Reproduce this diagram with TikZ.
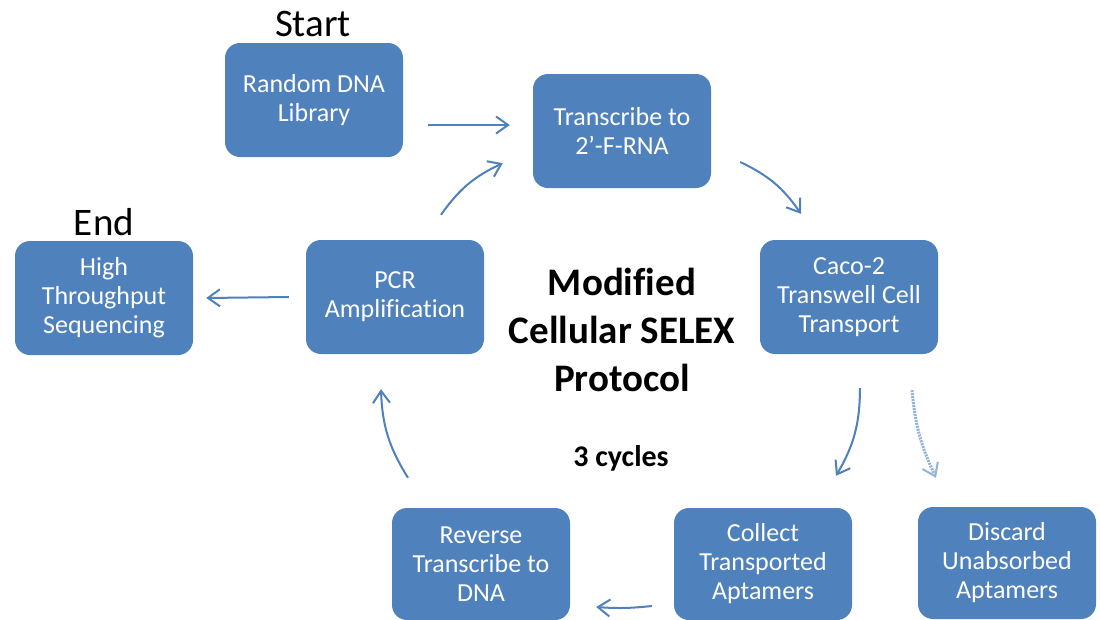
\documentclass[tikz,border=0pt]{standalone}
\usepackage{fontspec}
\setmainfont{Carlito}[Ligatures=NoCommon]
\usetikzlibrary{arrows.meta}
\definecolor{boxblue}{HTML}{4F81BD}
\definecolor{arrowblue}{HTML}{4F81BD}
\definecolor{fadeblue}{HTML}{93B2DC}
\begin{document}
\begin{tikzpicture}[x=1pt,y=-1pt,
  box/.style={rectangle, rounded corners=15pt, fill=boxblue, text=white,
    minimum width=178pt, minimum height=114pt, align=center, inner sep=0pt,
    font=\fontsize{26}{29}\selectfont},
  arr/.style={draw=arrowblue, line width=2pt,
    -{Straight Barb[length=12pt,width=17pt,line width=2pt]}},
  fadearr/.style={draw=fadeblue, line width=3pt, dash pattern=on 2pt off 1pt,
    -{Straight Barb[length=12pt,width=17pt,line width=2pt]}},
  lab/.style={font=\fontsize{39}{46}\selectfont, inner sep=0pt},
  title/.style={font=\bfseries\fontsize{39}{48}\selectfont, align=center, inner sep=0pt},
  sub/.style={font=\bfseries\fontsize{30}{34}\selectfont, inner sep=0pt}
]
\useasboundingbox (0,0) rectangle (1100,619);
\fill[white] (0,0) rectangle (1100,619);

\node[box] (rand) at (314,100) {Random DNA\\Library};
\node[box] (trans) at (622,131) {Transcribe to\\2’-F-RNA};
\node[box] (caco) at (849,297) {Caco-2\\Transwell Cell\\Transport};
\node[box] (pcr) at (395,297) {PCR\\Amplification};
\node[box] (ht) at (104,298) {High\\Throughput\\Sequencing};
\node[box, minimum height=112pt] (rev) at (481,564) {Reverse\\Transcribe to\\DNA};
\node[box, minimum height=112pt] (coll) at (763,564) {Collect\\Transported\\Aptamers};
\node[box, minimum height=112pt] (disc) at (1007,563) {Discard\\Unabsorbed\\Aptamers};

\node[lab] (start) at (313,24) {Start};
\node[lab] (end) at (104,222) {End};
\node[title] (ttl) at (622,330) {Modified\\Cellular SELEX\\Protocol};
\node[sub] (cyc) at (621,458) {3 cycles};

\draw[arr] ([shift={(25,25)}]rand.east) -- ([shift={(-23,-6)}]trans.west);
\draw[arr] ([shift={(46,-25)}]pcr.north) to[bend left=15] ([shift={(-30,-25)}]trans.south west);
\draw[arr] ([shift={(29,31)}]trans.east) to[bend left=15] ([shift={(-48,-26)}]caco.north);
\draw[arr] ([shift={(11,34)}]caco.south) to[bend left=15] ([shift={(73,-32)}]coll.north);
\draw[fadearr] ([shift={(63,36)}]caco.south) to[bend right=10] ([shift={(-71,-29)}]disc.north);
\draw[arr] ([shift={(-22,42)}]coll.west) to[bend left=5] ([shift={(26,43)}]rev.east);
\draw[arr] ([shift={(-73,-30)}]rev.north) to[bend left=15] ([shift={(-14,35)}]pcr.south);
\draw[arr] ([shift={(-17,0)}]pcr.west) -- ([shift={(13,0)}]ht.east);
\end{tikzpicture}
\end{document}
